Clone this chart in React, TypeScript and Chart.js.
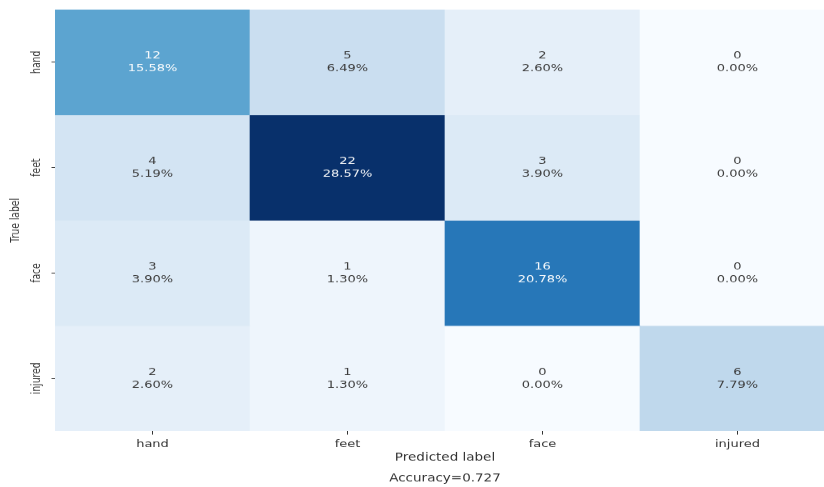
import React, { useEffect, useRef } from 'react';
import { Chart, registerables } from 'chart.js';

Chart.register(...registerables);

// ---- data ----
const predictedLabels = ['hand', 'feet', 'face', 'injured'];
const trueLabels = ['hand', 'feet', 'face', 'injured'];

const handCounts = [12, 5, 2, 0];
const feetCounts = [4, 22, 3, 0];
const faceCounts = [3, 1, 16, 0];
const injuredCounts = [2, 1, 0, 6];

const handPercents = ['15.58%', '6.49%', '2.60%', '0.00%'];
const feetPercents = ['5.19%', '28.57%', '3.90%', '0.00%'];
const facePercents = ['3.90%', '1.30%', '20.78%', '0.00%'];
const injuredPercents = ['2.60%', '1.30%', '0.00%', '7.79%'];

const xTitle = 'Predicted label';
const yTitle = 'True label';
const accuracyText = 'Accuracy=0.727';

const countRows = [handCounts, feetCounts, faceCounts, injuredCounts];
const percentRows = [handPercents, feetPercents, facePercents, injuredPercents];

// ---- styling helpers ----
const FONT = "'DejaVu Sans', sans-serif";
const BLUES = [
  [247, 251, 255], [222, 235, 247], [198, 219, 239], [158, 202, 225],
  [107, 174, 214], [66, 146, 198], [33, 113, 181], [8, 81, 156], [8, 48, 107],
];
const allCounts = countRows.flat();
const vmax = Math.max(...allCounts);
function blues(t: number): string {
  const p = Math.max(0, Math.min(1, t)) * (BLUES.length - 1);
  const i = Math.min(Math.floor(p), BLUES.length - 2);
  const f = p - i;
  const a = BLUES[i], b = BLUES[i + 1];
  const c = a.map((v, k) => Math.round(v + (b[k] - v) * f));
  return `rgb(${c[0]},${c[1]},${c[2]})`;
}

const cellTextPlugin = {
  id: 'cellText',
  afterDatasetsDraw(chart: any) {
    const ctx = chart.ctx;
    ctx.save();
    ctx.font = `13px ${FONT}`;
    ctx.textAlign = 'center';
    ctx.textBaseline = 'middle';
    chart.data.datasets.forEach((_: any, i: number) => {
      const meta = chart.getDatasetMeta(i);
      meta.data.forEach((el: any, j: number) => {
        const { x, y, base } = el.getProps(['x', 'y', 'base'], true);
        const cy = (y + base) / 2;
        const v = countRows[i][j];
        ctx.fillStyle = v / vmax > 0.4 ? 'rgba(255,255,255,0.95)' : '#3d3d3d';
        ctx.fillText(String(v), x, cy - 8);
        ctx.fillText(percentRows[i][j], x, cy + 8);
      });
    });
    ctx.restore();
  },
};

export default function App() {
  const ref = useRef<HTMLCanvasElement | null>(null);
  useEffect(() => {
    if (!ref.current) return;
    const n = trueLabels.length;
    const datasets = trueLabels.map((lab, r) => ({
      label: lab,
      data: predictedLabels.map(() => [n - r - 1, n - r]),
      backgroundColor: countRows[r].map((v) => blues(v / vmax)),
      borderWidth: 0,
      barPercentage: 1,
      categoryPercentage: 1,
      grouped: false,
    }));
    const chart = new Chart(ref.current, {
      type: 'bar',
      data: { labels: predictedLabels, datasets: datasets as any },
      options: {
        responsive: false,
        animation: false,
        events: [],
        layout: { padding: { top: 12, right: 5, bottom: 0, left: 0 } },
        plugins: {
          legend: { display: false },
          tooltip: { enabled: false },
        },
        scales: {
          x: {
            type: 'category',
            offset: true,
            grid: { offset: false, drawOnChartArea: false, drawTicks: true, tickLength: 4.5, tickColor: '#333', tickWidth: 1 },
            border: { display: false },
            ticks: { color: '#333', font: { family: FONT, size: 13 }, padding: 4, maxRotation: 0, minRotation: 0, autoSkip: false },
            title: {
              display: true,
              text: [xTitle, accuracyText],
              color: '#333',
              font: { family: FONT, size: 13.5, lineHeight: '26px' },
              padding: { top: 0, bottom: -2 },
            },
            afterFit: (s: any) => { s.height = 70; },
          },
          y: {
            type: 'linear',
            min: 0,
            max: n,
            afterBuildTicks: (s: any) => {
              s.ticks = trueLabels.map((_, i) => ({ value: i + 0.5 }));
            },
            grid: { drawOnChartArea: false, drawTicks: true, tickLength: 3.5, tickColor: '#333', tickWidth: 1 },
            border: { display: false },
            ticks: {
              color: '#333',
              font: { family: FONT, size: 11.5 },
              minRotation: 90,
              maxRotation: 90,
              crossAlign: 'center',
              padding: -5.5,
              autoSkip: false,
              callback: (v: any) => trueLabels[n - 1 - Math.floor(Number(v))],
            },
            title: {
              display: true,
              text: yTitle,
              color: '#333',
              font: { family: FONT, size: 11.5 },
              padding: { top: 9, bottom: 0 },
            },
            afterFit: (s: any) => { s.width = 55; },
          },
        },
      } as any,
      plugins: [cellTextPlugin],
    });
    return () => chart.destroy();
  }, []);

  return (
    <div style={{ position: 'fixed', left: 0, top: 0, width: 824, height: 487, overflow: 'hidden', background: '#fff' }}>
      <canvas ref={ref} width={840} height={609} style={{ width: '840px', height: '487px', display: 'block' }} />
    </div>
  );
}
